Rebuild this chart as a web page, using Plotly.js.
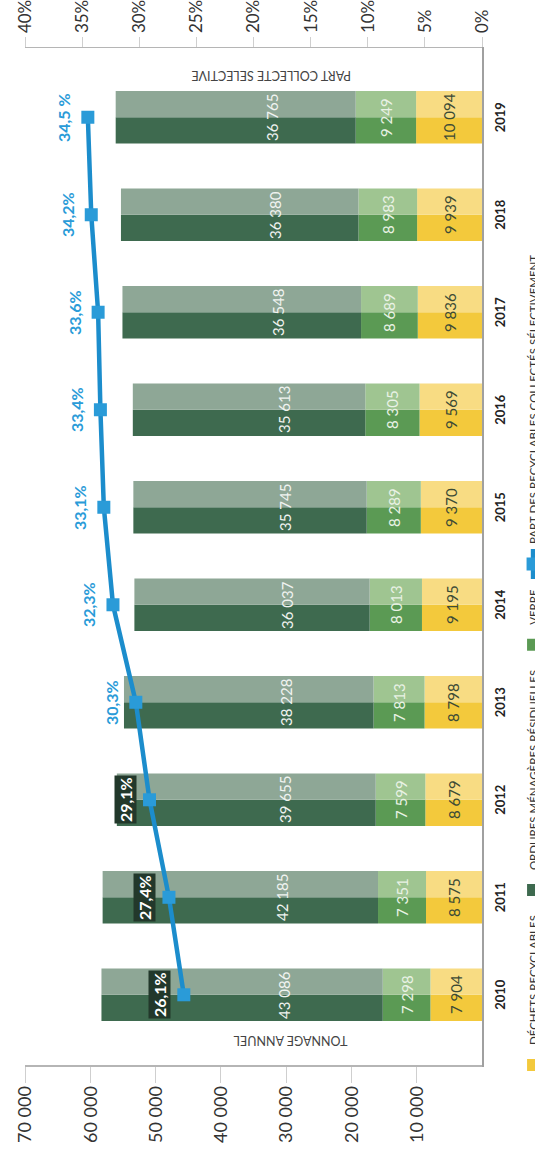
<!DOCTYPE html>
<html>
<head>
<meta charset="utf-8">
<script src="https://cdn.plot.ly/plotly-3.0.1.min.js"></script>
<style>
  html, body { margin: 0; padding: 0; background: #ffffff; }
  body { width: 535px; height: 1157px; overflow: hidden; position: relative; }
  #chart {
    position: absolute; left: 0; top: 0;
    width: 1157px; height: 560px;
    transform-origin: 0 0;
    transform: translate(0px, 1157px) rotate(-90deg);
  }
</style>
</head>
<body>
<div id="chart"></div>
<script>
// ---- data ----
const years = ['2010', '2011', '2012', '2013', '2014', '2015', '2016', '2017', '2018', '2019'];
const recyclables = [7904, 8575, 8679, 8798, 9195, 9370, 9569, 9836, 9939, 10094];
const verre = [7298, 7351, 7599, 7813, 8013, 8289, 8305, 8689, 8983, 9249];
const omr = [43086, 42185, 39655, 38228, 36037, 35745, 35613, 36548, 36380, 36765];
const partSelective = [26.1, 27.4, 29.1, 30.3, 32.3, 33.1, 33.4, 33.6, 34.2, 34.5];
const partLabels = ['26,1%', '27,4%', '29,1%', '30,3%', '32,3%', '33,1%', '33,4%', '33,6%', '34,2%', '34,5 %'];
const tonnageTicks = [10000, 20000, 30000, 40000, 50000, 60000, 70000];
const percentTicks = [0, 5, 10, 15, 20, 25, 30, 35, 40];
const seriesNames = ['DÉCHETS RECYCLABLES', 'ORDURES MÉNAGÈRES RÉSIDUELLES', 'VERRE',
                     'PART DES RECYCLABLES COLLECTÉS SÉLECTIVEMENT'];

// ---- styling ----
const FONT = 'Lato, "Open Sans", sans-serif';
const HALF = 0.27;
const TON_MAX = 70000, PCT_MAX = 40;
const PLOT_H = 461;

const fmt = v => String(v).replace(/\B(?=(\d{3})+(?!\d))/g, ' ');
const baseVerre = recyclables.slice();
const baseOmr = recyclables.map((v, i) => v + verre[i]);
const totals = baseOmr.map((v, i) => v + omr[i]);

function halfBars(vals, base, darkCol, lightCol, name, rank) {
  return [
    { type: 'bar', x: years, y: vals, base: base, offset: -HALF, width: HALF,
      marker: { color: darkCol, line: { width: 0 } }, name: name, legendrank: rank,
      hoverinfo: 'skip' },
    { type: 'bar', x: years, y: vals, base: base, offset: 0, width: HALF,
      marker: { color: lightCol, line: { width: 0 } }, name: name, showlegend: false,
      hoverinfo: 'skip' }
  ];
}

const zeros = years.map(() => 0);
const traces = [
  ...halfBars(recyclables, zeros, '#f3c93c', '#f8dc83', seriesNames[0], 1),
  ...halfBars(verre, baseVerre, '#5b9a54', '#9fc591', seriesNames[2], 3),
  ...halfBars(omr, baseOmr, '#3e6a4f', '#8ea796', seriesNames[1], 2),
  { type: 'scatter', mode: 'lines+markers', x: years, y: partSelective, yaxis: 'y2',
    name: seriesNames[3], legendrank: 4,
    line: { color: '#1c8dcc', width: 4.5 },
    marker: { symbol: 'square', size: 13, color: '#2a9bd8' },
    hoverinfo: 'skip' }
];

// category axis: annotations are placed by category index
const annotations = [];
years.forEach((yr, i) => {
  annotations.push({ x: i, y: recyclables[i] / 2, xref: 'x', yref: 'y', showarrow: false,
    text: fmt(recyclables[i]), font: { family: FONT, size: 15, color: '#3d4b36' } });
  annotations.push({ x: i, y: baseVerre[i] + verre[i] / 2, xref: 'x', yref: 'y', showarrow: false,
    text: fmt(verre[i]), font: { family: FONT, size: 15, color: '#e9f2e5' } });
  annotations.push({ x: i, y: baseOmr[i] + omr[i] * 0.35, xref: 'x', yref: 'y', showarrow: false,
    text: fmt(omr[i]), font: { family: FONT, size: 15, color: '#f0f3f0' } });
  // percentage label: white on a dark box when it sits on the bar, blue otherwise
  const shiftPx = 24;
  const labelTon = partSelective[i] / PCT_MAX * TON_MAX + (shiftPx + 8) * TON_MAX / PLOT_H;
  const onBar = totals[i] > labelTon;
  annotations.push({ x: i, y: partSelective[i], xref: 'x', yref: 'y2', yshift: shiftPx,
    showarrow: false, text: partLabels[i], borderpad: 1,
    bgcolor: onBar ? '#22382b' : 'rgba(0,0,0,0)',
    font: { family: FONT, size: 16, weight: 'bold', color: onBar ? '#ffffff' : '#2a9bd8' } });
});
annotations.push({ xref: 'paper', yref: 'paper', x: 0.0147, y: 0.42, showarrow: false,
  textangle: -90, text: 'TONNAGE ANNUEL', font: { family: FONT, size: 12.5, color: '#444444' } });
annotations.push({ xref: 'paper', yref: 'paper', x: 0.983, y: 0.462, showarrow: false,
  textangle: -90, text: 'PART COLLECTE SELECTIVE', font: { family: FONT, size: 12.5, color: '#444444' } });

const layout = {
  width: 1157, height: 560,
  margin: { l: 92, r: 48, t: 25, b: 74 },
  paper_bgcolor: '#ffffff', plot_bgcolor: '#ffffff',
  separators: ', ',
  barmode: 'overlay',
  showlegend: true,
  legend: { orientation: 'h', x: -0.0197, xanchor: 'left', y: -0.08, yanchor: 'top',
    font: { family: FONT, size: 11.5, color: '#333333' }, traceorder: 'normal' },
  xaxis: { type: 'category', range: [-0.72, 9.71], showline: true, linecolor: '#a0a0a0',
    linewidth: 1.5, ticks: '', showgrid: false, zeroline: false, ticklabelstandoff: 6,
    tickfont: { family: FONT, size: 13, weight: 'bold', color: '#222222' } },
  yaxis: { range: [0, TON_MAX], tickvals: tonnageTicks, tickformat: ',d', showgrid: false,
    zeroline: false, showline: true, linecolor: '#b5b5b5', linewidth: 1.5,
    ticks: 'outside', ticklen: 16, tickcolor: '#cfcfcf', tickwidth: 1,
    tickfont: { family: FONT, size: 18, color: '#333333' } },
  yaxis2: { overlaying: 'y', side: 'right', range: [0, PCT_MAX], tickvals: percentTicks,
    ticktext: percentTicks.map(p => p + '%'),
    showgrid: false, zeroline: false, showline: true, linecolor: '#b5b5b5',
    linewidth: 1.5, ticks: 'outside', ticklen: 10, tickcolor: '#cfcfcf', tickwidth: 1,
    tickfont: { family: FONT, size: 17, color: '#333333' } },
  annotations: annotations
};

Plotly.newPlot('chart', traces, layout, { displayModeBar: false, staticPlot: true, responsive: false });
</script>
</body>
</html>
